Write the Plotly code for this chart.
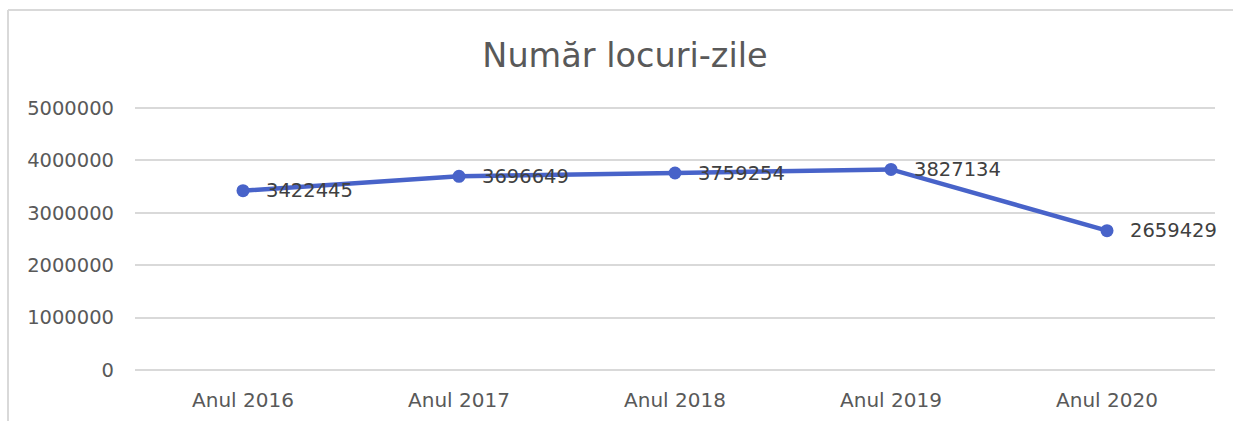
import plotly.graph_objects as go

# Număr locuri-zile pe ani
categories = ["Anul 2016", "Anul 2017", "Anul 2018", "Anul 2019", "Anul 2020"]
values = [3422445, 3696649, 3759254, 3827134, 2659429]
y_ticks = [0, 1000000, 2000000, 3000000, 4000000, 5000000]

LINE_COLOR = "#4863C9"
TEXT_COLOR = "#595959"
GRID_COLOR = "#D9D9D9"
FONT = "DejaVu Sans"

fig = go.Figure()
fig.add_trace(go.Scatter(
    x=categories,
    y=values,
    mode="lines+markers",
    line=dict(color=LINE_COLOR, width=4.5),
    marker=dict(color=LINE_COLOR, size=13),
    hoverinfo="skip",
))

# value labels to the right of each point
for cat, val in zip(categories, values):
    fig.add_annotation(
        x=cat, y=val, text=str(val), showarrow=False,
        xanchor="left", yanchor="middle", xshift=21, yshift=0,
        font=dict(family=FONT, size=19.5, color="#404040"),
    )

# outer chart frame (top and left edges)
fig.add_shape(type="line", xref="paper", yref="paper",
              x0=-0.1176, x1=1.02, y0=1.3483, y1=1.3483,
              line=dict(color=GRID_COLOR, width=2))
fig.add_shape(type="line", xref="paper", yref="paper",
              x0=-0.1176, x1=-0.1176, y0=1.3483, y1=-0.25,
              line=dict(color=GRID_COLOR, width=2))

fig.update_layout(
    width=1233, height=421,
    margin=dict(l=135, r=18, t=103, b=51),
    paper_bgcolor="white", plot_bgcolor="white",
    showlegend=False,
    title=dict(text="Număr locuri-zile", xref="paper", x=0.4537, xanchor="center",
               y=1 - 55 / 421, yanchor="middle",
               font=dict(family=FONT, size=33.5, color=TEXT_COLOR)),
    font=dict(family=FONT, color=TEXT_COLOR),
    xaxis=dict(type="category", range=[-0.5, 4.5], automargin=False,
               showgrid=False, showline=False, zeroline=False,
               ticks="", ticklabelstandoff=16,
               tickfont=dict(size=20, color=TEXT_COLOR)),
    yaxis=dict(range=[0, 5095000], tickvals=y_ticks, automargin=False,
               ticktext=[str(v) for v in y_ticks],
               showgrid=True, gridcolor=GRID_COLOR, gridwidth=1.5,
               zeroline=True, zerolinecolor=GRID_COLOR, zerolinewidth=1.5,
               showline=False, ticks="", ticklabelstandoff=20,
               tickfont=dict(size=19.5, color=TEXT_COLOR)),
)

fig.write_html("out.html")
